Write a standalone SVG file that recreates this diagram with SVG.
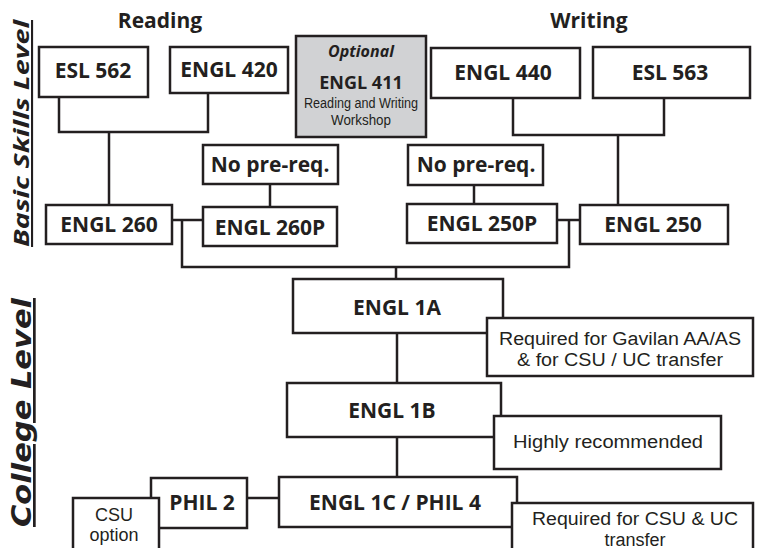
<svg xmlns="http://www.w3.org/2000/svg" width="761" height="548" viewBox="0 0 761 548">
<style>
.box{fill:#fff;stroke:#231f20;stroke-width:2.5}
.gray{fill:#d1d2d4;stroke:#231f20;stroke-width:2.5}
.ln{fill:none;stroke:#231f20;stroke-width:2.5}
.lb{font-family:"Open Sans","Noto Sans",sans-serif;font-weight:bold;font-size:21px;fill:#231f20;text-anchor:middle}
.hd{font-family:"Open Sans","Noto Sans",sans-serif;font-weight:bold;font-size:21px;fill:#231f20;text-anchor:middle}
.nt{font-family:"Liberation Sans",Arial,sans-serif;font-size:18px;fill:#231f20;text-anchor:middle}
.side{font-family:"Open Sans","Noto Sans",sans-serif;font-weight:bold;font-style:italic;fill:#231f20;text-decoration:underline}
</style>
<rect width="761" height="548" fill="#fff"/>

<g id="side-labels">
<text class="side" transform="translate(29,247) rotate(-90)" font-size="21" textLength="227" lengthAdjust="spacingAndGlyphs">Basic Skills Level</text>
<text class="side" transform="translate(31,527) rotate(-90)" font-size="27" textLength="229" lengthAdjust="spacingAndGlyphs" style="font-family:'DejaVu Sans',sans-serif">College Level</text>
</g>

<g id="headers">
<text class="hd" x="160" y="28">Reading</text>
<text class="hd" x="589" y="28">Writing</text>
</g>

<g id="connectors">
<polyline class="ln" points="59,97 59,132 208,132 208,93"/>
<line class="ln" x1="109" y1="132" x2="109" y2="205"/>
<polyline class="ln" points="513,98 513,135 664,135 664,98"/>
<line class="ln" x1="618" y1="135" x2="618" y2="205"/>
<line class="ln" x1="270" y1="184" x2="270" y2="207"/>
<line class="ln" x1="474" y1="185" x2="474" y2="204"/>
<line class="ln" x1="172" y1="220" x2="203" y2="220"/>
<line class="ln" x1="557" y1="220" x2="580" y2="220"/>
<polyline class="ln" points="182,220 182,267 569,267 569,220"/>
<line class="ln" x1="396" y1="267" x2="396" y2="279"/>
<line class="ln" x1="397" y1="333" x2="397" y2="383"/>
<line class="ln" x1="397" y1="437" x2="397" y2="477"/>
<line class="ln" x1="247" y1="498" x2="279" y2="498"/>
</g>

<g id="esl562"><rect class="box" x="39" y="47" width="109" height="50"/><text class="lb" x="93" y="78">ESL 562</text></g>
<g id="engl420"><rect class="box" x="170" y="47" width="118" height="46"/><text class="lb" x="229" y="77">ENGL 420</text></g>
<g id="engl411"><rect class="gray" x="296" y="36" width="130" height="101"/>
<text x="361" y="57" style="font-family:'Open Sans',sans-serif;font-weight:bold;font-style:italic;font-size:16px;fill:#231f20;text-anchor:middle">Optional</text>
<text x="361" y="89" style="font-family:'Open Sans',sans-serif;font-weight:bold;font-size:18px;fill:#231f20;text-anchor:middle">ENGL 411</text>
<text x="361" y="108" textLength="114" lengthAdjust="spacingAndGlyphs" style="font-family:'Liberation Sans',sans-serif;font-size:14px;fill:#231f20;text-anchor:middle">Reading and Writing</text>
<text x="361" y="125" textLength="60" lengthAdjust="spacingAndGlyphs" style="font-family:'Liberation Sans',sans-serif;font-size:14px;fill:#231f20;text-anchor:middle">Workshop</text>
</g>
<g id="engl440"><rect class="box" x="431" y="48" width="149" height="50"/><text class="lb" x="503" y="80">ENGL 440</text></g>
<g id="esl563"><rect class="box" x="593" y="47" width="157" height="51"/><text class="lb" x="670" y="80">ESL 563</text></g>

<g id="noprereq-left"><rect class="box" x="203" y="145" width="135" height="39"/><text class="lb" x="270" y="172">No pre-req.</text></g>
<g id="noprereq-right"><rect class="box" x="408" y="145" width="135" height="40"/><text class="lb" x="476" y="172">No pre-req.</text></g>

<g id="engl260"><rect class="box" x="46" y="205" width="126" height="39"/><text class="lb" x="109" y="232">ENGL 260</text></g>
<g id="engl260p"><rect class="box" x="203" y="207" width="134" height="39"/><text class="lb" x="270" y="235">ENGL 260P</text></g>
<g id="engl250p"><rect class="box" x="407" y="204" width="150" height="39"/><text class="lb" x="482" y="231">ENGL 250P</text></g>
<g id="engl250"><rect class="box" x="580" y="205" width="148" height="39"/><text class="lb" x="653" y="232">ENGL 250</text></g>

<g id="engl1a"><rect class="box" x="293" y="279" width="210" height="54"/><text class="lb" x="397" y="315">ENGL 1A</text></g>
<g id="note1a"><rect class="box" x="487" y="318" width="266" height="58"/>
<text class="nt" x="620" y="345" textLength="242" lengthAdjust="spacingAndGlyphs">Required for Gavilan AA/AS</text>
<text class="nt" x="620" y="366" textLength="206" lengthAdjust="spacingAndGlyphs">&amp; for CSU / UC transfer</text></g>

<g id="engl1b"><rect class="box" x="287" y="383" width="214" height="54"/><text class="lb" x="392" y="418">ENGL 1B</text></g>
<g id="note1b"><rect class="box" x="494" y="416" width="227" height="53"/><text class="nt" x="608" y="448" textLength="190" lengthAdjust="spacingAndGlyphs">Highly recommended</text></g>

<g id="engl1c"><rect class="box" x="279" y="477" width="238" height="50"/><text class="lb" x="395" y="510">ENGL 1C / PHIL 4</text></g>
<g id="note1c"><rect class="box" x="512" y="503" width="241" height="60"/>
<text class="nt" x="635" y="525" textLength="206" lengthAdjust="spacingAndGlyphs">Required for CSU &amp; UC</text>
<text class="nt" x="635" y="546">transfer</text></g>

<g id="phil2"><rect class="box" x="151" y="478" width="96" height="50"/><text class="lb" x="202" y="510" font-size="22">PHIL 2</text></g>
<g id="csu-option"><rect class="box" x="73" y="498" width="86" height="62"/>
<text class="nt" x="114" y="521" font-size="17">CSU</text>
<text class="nt" x="114" y="541" font-size="17">option</text></g>
</svg>
